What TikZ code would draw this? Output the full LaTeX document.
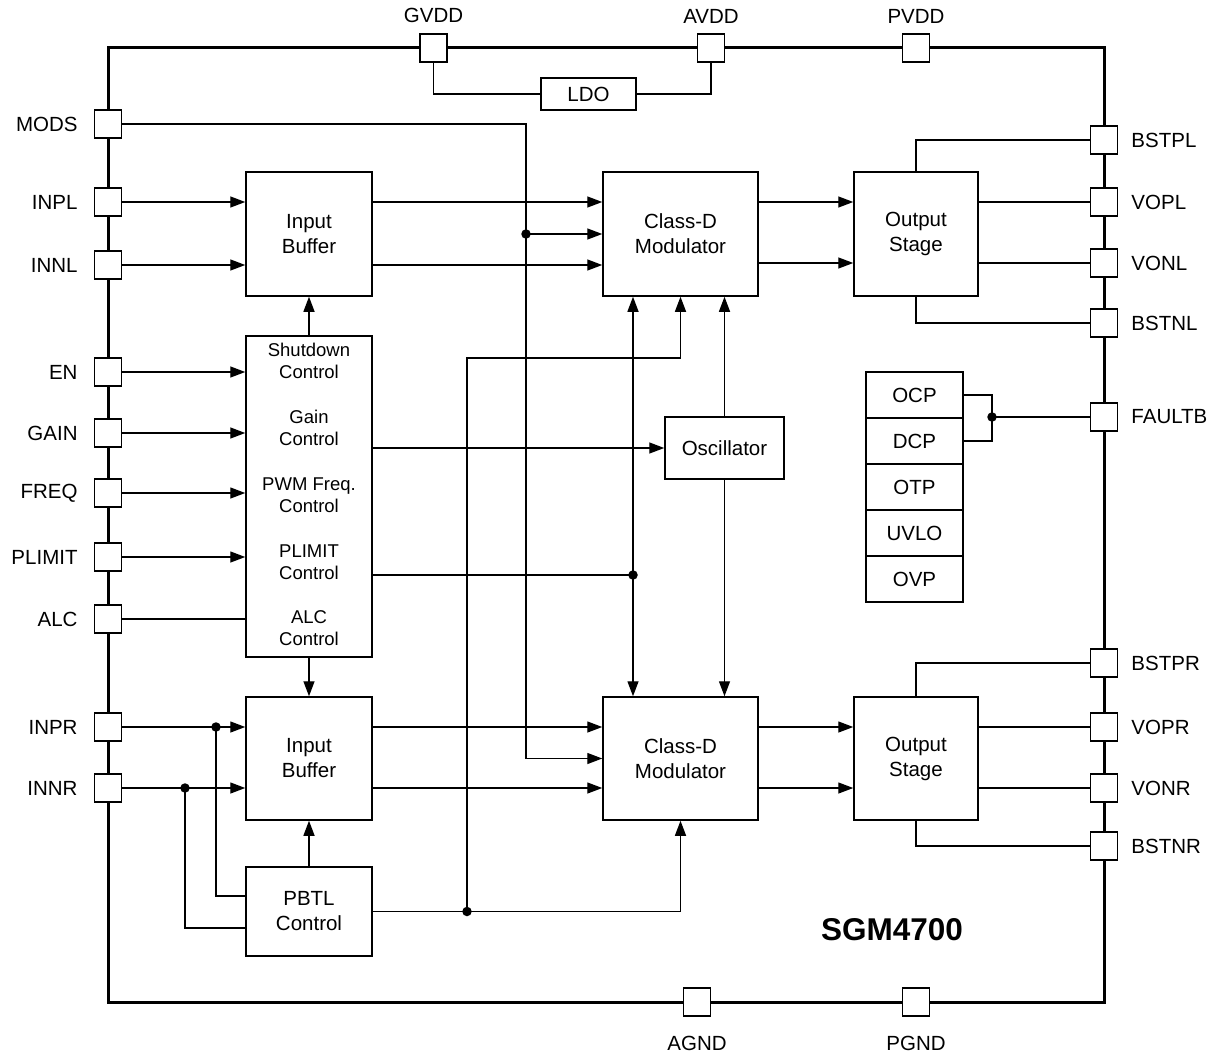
\documentclass[tikz,border=0pt]{standalone}
\usepackage{fontspec}
\setmainfont{Liberation Sans}
\usetikzlibrary{arrows.meta,positioning}
\begin{document}
\begin{tikzpicture}[x=1pt,y=-1pt,
  wire/.style={line width=1.4pt},
  arr/.style={wire,-{Triangle[length=15pt,width=11pt]}},
  blk/.style={draw,line width=1.5pt,inner sep=0pt,align=center,font=\fontsize{20.5}{25}\selectfont},
  pin/.style={draw,fill=white,line width=1.5pt,minimum width=27pt,minimum height=28pt,inner sep=0pt},
  lbl/.style={inner sep=0pt,font=\fontsize{20.5}{25}\selectfont},
  ctxt/.style={inner sep=0pt,align=center,font=\fontsize{18.5}{22}\selectfont},
  cell/.style={draw,line width=1.5pt,minimum width=97pt,minimum height=46pt,inner sep=0pt,font=\fontsize{20.5}{25}\selectfont},
  jdot/.style={circle,fill,inner sep=0pt,minimum size=9.5pt},
]
\useasboundingbox (0,0) rectangle (1215,1057);
% outer frame
\draw[line width=3pt] (108,48) rectangle (1104,1002);

% pins top
\node[pin] (gvdd) at (433.5,48) {};
\node[pin] (avdd) at (711,48) {};
\node[pin] (pvdd) at (916,48) {};
\node[lbl,above=10pt of gvdd] (lgvdd) {GVDD};
\node[lbl,above=10pt of avdd] (lavdd) {AVDD};
\node[lbl,above=10pt of pvdd] (lpvdd) {PVDD};
% pins bottom
\node[pin] (agnd) at (697,1002) {};
\node[pin] (pgnd) at (916,1002) {};
\node[lbl,below=19pt of agnd] (lagnd) {AGND};
\node[lbl,below=19pt of pgnd] (lpgnd) {PGND};
% pins left
\foreach \n/\t/\y in {mods/MODS/124,inpl/INPL/202,innl/INNL/265,en/EN/372,gain/GAIN/433,freq/FREQ/493,plimit/PLIMIT/557,alc/ALC/619,inpr/INPR/727,innr/INNR/788}{
  \node[pin] (\n) at (108,\y) {};
  \node[lbl,left=16pt of \n] (l\n) {\t};
}
% pins right
\foreach \n/\t/\y in {bstpl/BSTPL/140,vopl/VOPL/202,vonl/VONL/263,bstnl/BSTNL/323,faultb/FAULTB/417,bstpr/BSTPR/663,vopr/VOPR/727,vonr/VONR/788,bstnr/BSTNR/846}{
  \node[pin] (\n) at (1104,\y) {};
  \node[lbl,right=13pt of \n] (l\n) {\t};
}

% blocks
\node[blk,minimum width=95pt,minimum height=32pt] (ldo) at (588.5,94) {LDO};
\node[blk,minimum width=126pt,minimum height=124pt] (ibt) at (309,234) {Input\\Buffer};
\node[blk,minimum width=126pt,minimum height=123pt] (ibb) at (309,758.5) {Input\\Buffer};
\node[blk,minimum width=126pt,minimum height=321pt] (ctl) at (309,496.5) {};
\node[blk,minimum width=126pt,minimum height=89pt] (pbtl) at (309,911.5) {PBTL\\Control};
\node[blk,minimum width=155pt,minimum height=124pt] (cdmt) at (680.5,234) {Class-D\\Modulator};
\node[blk,minimum width=155pt,minimum height=123pt] (cdmb) at (680.5,758.5) {Class-D\\Modulator};
\node[blk,minimum width=124pt,minimum height=124pt] (ost) at (916,234) {Output\\Stage};
\node[blk,minimum width=124pt,minimum height=123pt] (osb) at (916,758.5) {Output\\Stage};
\node[blk,minimum width=119pt,minimum height=62pt] (osc) at (724.5,448) {Oscillator};

% control texts
\node[ctxt] (t1) at (309,361) {Shutdown\\Control};
\node[ctxt] (t2) at (309,427.5) {Gain\\Control};
\node[ctxt] (t3) at (309,495) {PWM Freq.\\Control};
\node[ctxt] (t4) at (309,562) {PLIMIT\\Control};
\node[ctxt] (t5) at (309,628) {ALC\\Control};

% fault stack
\node[cell] (ocp) at (914.5,395) {OCP};
\node[cell] (dcp) at (914.5,441) {DCP};
\node[cell] (otp) at (914.5,487) {OTP};
\node[cell] (uvlo) at (914.5,533) {UVLO};
\node[cell] (ovp) at (914.5,579) {OVP};

\node[font=\bfseries\fontsize{31.5}{36}\selectfont,inner sep=0pt] (title) at (892,930) {SGM4700};

% coordinates
\coordinate (mx) at (526,124);
\coordinate (pl) at (633,575);
\coordinate (pb) at (467,911.5);
\coordinate (ph) at (467,358);
\coordinate (dp) at (216,727);
\coordinate (dn) at (185,788);
\coordinate (pbin1) at (246,896);
\coordinate (pbin2) at (246,928);
\coordinate (fd) at (992,417);

% LDO
\draw[wire] (gvdd.south) |- (ldo.west);
\draw[wire] (avdd.south) |- (ldo.east);

% left inputs
\draw[arr] (inpl.east) -- (inpl.east -| ibt.west);
\draw[arr] (innl.east) -- (innl.east -| ibt.west);
\draw[arr] (en.east) -- (en.east -| ctl.west);
\draw[arr] (gain.east) -- (gain.east -| ctl.west);
\draw[arr] (freq.east) -- (freq.east -| ctl.west);
\draw[arr] (plimit.east) -- (plimit.east -| ctl.west);
\draw[wire] (alc.east) -- (alc.east -| ctl.west);

% input buffer top to modulator
\draw[arr] (inpl.east -| ibt.east) -- (inpl.east -| cdmt.west);
\draw[arr] (innl.east -| ibt.east) -- (innl.east -| cdmt.west);

% MODS
\draw[wire] (mods.east) -- (mx) -- (mx |- cdmb.west);
\draw[arr] (mx |- cdmb.west) -- (cdmb.west);
\draw[arr] (mx |- cdmt.west) -- (cdmt.west);
\node[jdot] (d1) at (mx |- cdmt.west) {};

% control to buffers
\draw[arr] (ctl.north) -- (ibt.south);
\draw[arr] (ctl.south) -- (ibb.north);
\draw[arr] (pbtl.north) -- (ibb.south);

% gain -> oscillator
\draw[arr] (ctl.east |- osc.west) -- (osc.west);
% plimit
\draw[wire] (ctl.east |- pl) -- (pl);
\draw[arr] (pl) -- (pl |- cdmt.south);
\draw[arr] (pl) -- (pl |- cdmb.north);
\node[jdot] (d2) at (pl) {};
% oscillator
\draw[arr] (osc.north) -- (osc.north |- cdmt.south);
\draw[arr] (osc.south) -- (osc.south |- cdmb.north);

% PBTL
\draw[wire] (pbtl.east) -- (pb);
\draw[arr] (pb) -| (cdmb.south);
\draw[arr] (pb) -- (ph) -| (cdmt.south);
\node[jdot] (d3) at (pb) {};

% right inputs
\draw[wire] (inpr.east) -- (dp);
\draw[arr] (dp) -- (dp -| ibb.west);
\draw[wire] (dp) |- (pbin1);
\node[jdot] (d4) at (dp) {};
\draw[wire] (innr.east) -- (dn);
\draw[arr] (dn) -- (dn -| ibb.west);
\draw[wire] (dn) |- (pbin2);
\node[jdot] (d5) at (dn) {};

% input buffer bottom to modulator
\draw[arr] (inpr.east -| ibb.east) -- (inpr.east -| cdmb.west);
\draw[arr] (innr.east -| ibb.east) -- (innr.east -| cdmb.west);

% modulator to output stage
\draw[arr] (vopl.west -| cdmt.east) -- (vopl.west -| ost.west);
\draw[arr] (vonl.west -| cdmt.east) -- (vonl.west -| ost.west);
\draw[arr] (vopr.west -| cdmb.east) -- (vopr.west -| osb.west);
\draw[arr] (vonr.west -| cdmb.east) -- (vonr.west -| osb.west);

% output stage to pins
\draw[wire] (vopl.west -| ost.east) -- (vopl.west);
\draw[wire] (vonl.west -| ost.east) -- (vonl.west);
\draw[wire] (ost.north) |- (bstpl.west);
\draw[wire] (ost.south) |- (bstnl.west);
\draw[wire] (vopr.west -| osb.east) -- (vopr.west);
\draw[wire] (vonr.west -| osb.east) -- (vonr.west);
\draw[wire] (osb.north) |- (bstpr.west);
\draw[wire] (osb.south) |- (bstnr.west);

% fault
\draw[wire] (ocp.east) -| (fd) |- (dcp.east);
\draw[wire] (fd) -- (fd -| faultb.west);
\node[jdot] (d6) at (fd) {};
\end{tikzpicture}
\end{document}
